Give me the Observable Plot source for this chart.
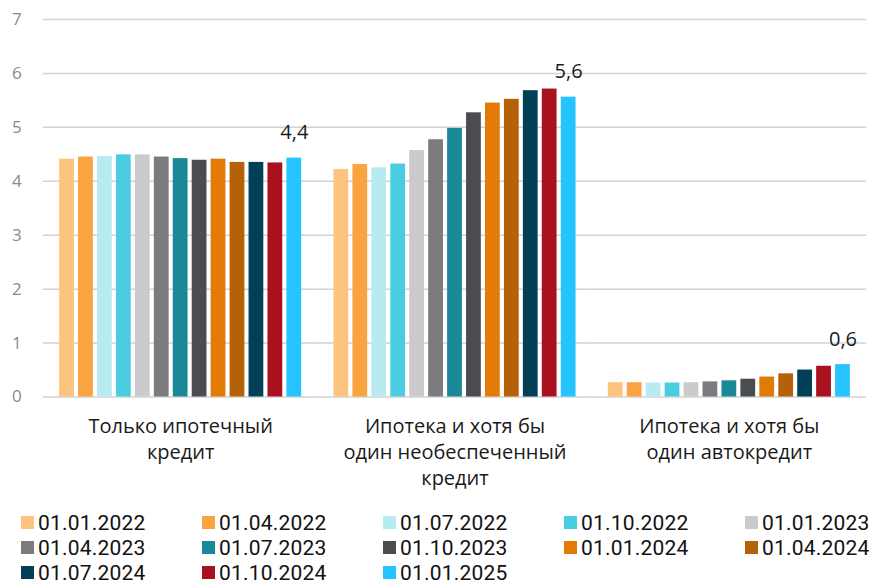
<!DOCTYPE html>
<html>
<head>
<meta charset="utf-8">
<script src="https://cdn.jsdelivr.net/npm/d3@7"></script>
<script src="https://cdn.jsdelivr.net/npm/@observablehq/plot@0.6"></script>
<style>
  body { margin: 0; background: #fff; font-family: "Open Sans", sans-serif; }
  #legend { display: grid; grid-template-columns: repeat(5, 181px); grid-auto-rows: 25px; margin: 10px 0 0 21px; font-family: Roboto, sans-serif; font-size: 21px; line-height: 24px; letter-spacing: 0.2px; color: #111; }
  .item { display: flex; align-items: center; white-space: nowrap; height: 25px; }
  .sw { width: 13px; height: 13px; margin-right: 4px; flex: none; }
</style>
</head>
<body>
<div id="chart"></div>
<div id="legend"></div>
<script>
const groups = [
  "Только ипотечный\nкредит",
  "Ипотека и хотя бы\nодин необеспеченный\nкредит",
  "Ипотека и хотя бы\nодин автокредит"
];
const dates = ["01.01.2022","01.04.2022","01.07.2022","01.10.2022","01.01.2023","01.04.2023","01.07.2023","01.10.2023","01.01.2024","01.04.2024","01.07.2024","01.10.2024","01.01.2025"];
const colors = ["#FCC47F","#F9A440","#B8EBF1","#4BCDE1","#CBCBCD","#7B7B80","#1A8896","#4B4C50","#E17B05","#B46107","#024058","#A9111F","#26C4FE"];
const onlyMortgage = [4.41,4.45,4.46,4.49,4.49,4.45,4.42,4.39,4.41,4.35,4.35,4.34,4.43];
const mortgageUnsecured = [4.22,4.31,4.25,4.32,4.57,4.77,4.98,5.27,5.45,5.52,5.68,5.71,5.56];
const mortgageAuto = [0.265,0.265,0.26,0.26,0.265,0.28,0.30,0.33,0.37,0.43,0.50,0.57,0.60];
const yTicks = [0,1,2,3,4,5,6,7];

const series = [onlyMortgage, mortgageUnsecured, mortgageAuto];
const rows = [];
groups.forEach((g, gi) => dates.forEach((d, di) => rows.push({group: g, date: d, value: series[gi][di]})));
const lastDate = dates[dates.length - 1];
const labelRows = rows.filter(r => r.date === lastDate).map(r => ({...r, label: r.value.toFixed(1).replace(".", ",")}));

const plot = Plot.plot({
  width: 876,
  height: 500,
  marginLeft: 43,
  marginRight: 10,
  marginTop: 19,
  marginBottom: 103.5,
  style: {fontFamily: "'Open Sans', sans-serif", background: "#fff", overflow: "visible"},
  fx: {domain: groups, paddingInner: 0.1177, paddingOuter: 0.0588, round: false, label: null},
  x: {domain: dates, paddingInner: 0.22, paddingOuter: 0, round: false, axis: null},
  y: {domain: [0, 7], axis: null},
  color: {domain: dates, range: colors},
  marks: [
    Plot.ruleY(yTicks, {stroke: "#d2d2d2", strokeWidth: 1.5, insetLeft: -16.2, insetRight: -16.2}),
    Plot.axisY(yTicks, {tickSize: 0, tickPadding: 38, tickFormat: d => String(d), fontSize: 17, fill: "#8a8a8a", label: null}),
    Plot.barY(rows, {fx: "group", x: "date", y: "value", fill: "date"}),
    Plot.text(labelRows, {fx: "group", x: "date", y: "value", text: "label", dy: -19, lineAnchor: "bottom", fontSize: 20, fill: "#1a1a1a"}),
    Plot.axisFx({anchor: "bottom", tickSize: 0, tickPadding: 18, fontSize: 20, lineHeight: 1.3, fill: "#1a1a1a", label: null})
  ]
});
document.getElementById("chart").appendChild(plot);

const color = plot.scale("color");
const legend = document.getElementById("legend");
color.domain.forEach((d, i) => {
  const item = document.createElement("div");
  item.className = "item";
  const sw = document.createElement("span");
  sw.className = "sw";
  sw.style.background = color.range[i];
  const t = document.createElement("span");
  t.textContent = d;
  item.appendChild(sw);
  item.appendChild(t);
  legend.appendChild(item);
});
</script>
</body>
</html>
